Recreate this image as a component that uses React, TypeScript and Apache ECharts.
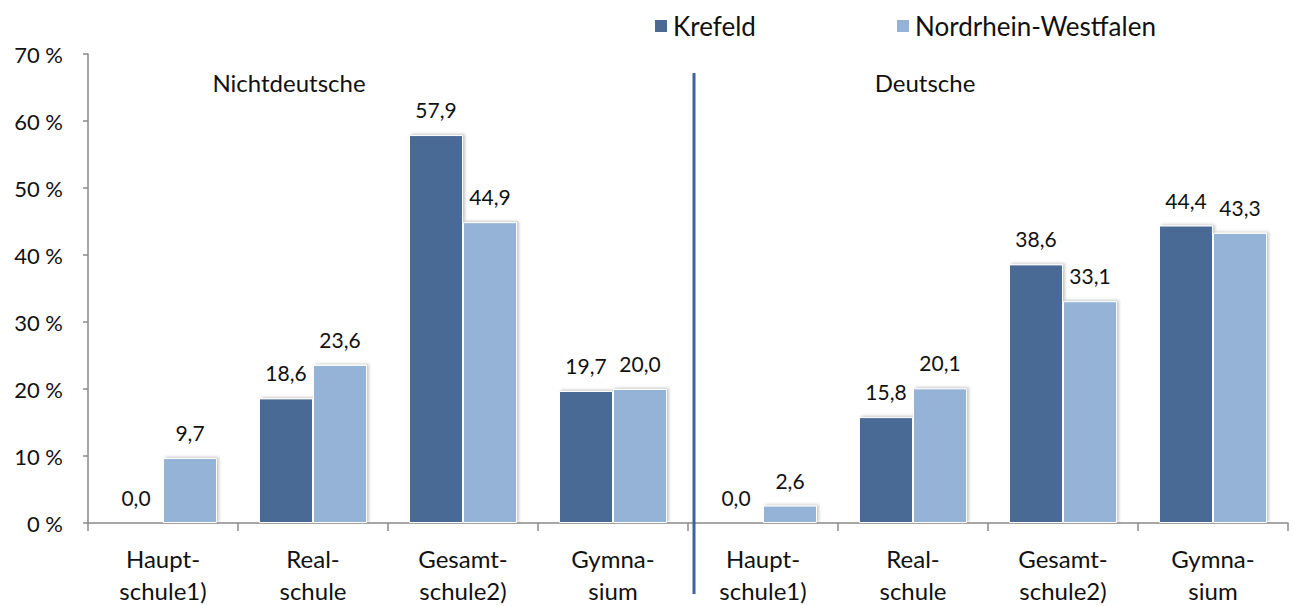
import React, { useEffect, useRef } from "react";
import * as echarts from "echarts";

const categories = [
  "Haupt-\nschule1)",
  "Real-\nschule",
  "Gesamt-\nschule2)",
  "Gymna-\nsium",
  "Haupt-\nschule1)",
  "Real-\nschule",
  "Gesamt-\nschule2)",
  "Gymna-\nsium",
];
// first four: Nichtdeutsche, last four: Deutsche
const krefeld = [0.0, 18.6, 57.9, 19.7, 0.0, 15.8, 38.6, 44.4];
const nrw = [9.7, 23.6, 44.9, 20.0, 2.6, 20.1, 33.1, 43.3];
const seriesNames = ["Krefeld", "Nordrhein-Westfalen"];
const groupTitles = ["Nichtdeutsche", "Deutsche"];
const yTicks = { min: 0, max: 70, interval: 10 };

const FONT = "Lato, 'Noto Sans', sans-serif";
const C_KREFELD = "#4A6A94";
const C_NRW = "#95B3D7";

export default function App() {
  const ref = useRef<HTMLDivElement>(null);
  useEffect(() => {
    if (!ref.current) return;
    const chart = echarts.init(ref.current, null, { renderer: "svg" });
    const fmt = (p: any) => Number(p.value).toFixed(1).replace(".", ",");
    const barStyle = (color: string) => ({
      color,
      borderColor: "#ffffff",
      borderWidth: 1,
      shadowColor: "rgba(0,0,0,0.22)",
      shadowBlur: 3,
      shadowOffsetX: 2,
      shadowOffsetY: -1,
    });
    const label = {
      show: true,
      position: "top" as const,
      distance: 15,
      formatter: fmt,
      fontFamily: FONT,
      fontSize: 21,
      color: "#111",
    };
    const legendBase = {
      top: 8,
      itemWidth: 14,
      itemHeight: 14,
      icon: "rect",
      textStyle: { fontFamily: FONT, fontSize: 26, color: "#111" },
      selectedMode: false,
    };
    chart.setOption({
      animation: false,
      backgroundColor: "#ffffff",
      legend: [
        { ...legendBase, left: 648, data: [seriesNames[0]] },
        { ...legendBase, left: 890, data: [seriesNames[1]] },
      ],
      grid: { left: 88, right: 5, top: 54, bottom: 80, containLabel: false },
      xAxis: {
        type: "category",
        data: categories,
        axisLine: { show: true, lineStyle: { color: "#8a8a8a", width: 1.5 } },
        axisTick: { show: true, length: 8, lineStyle: { color: "#8a8a8a", width: 1.5 } },
        axisLabel: {
          interval: 0,
          margin: 19,
          lineHeight: 32,
          fontFamily: FONT,
          fontSize: 24,
          color: "#111",
        },
      },
      yAxis: {
        type: "value",
        min: yTicks.min,
        max: yTicks.max,
        interval: yTicks.interval,
        axisLine: { show: true, lineStyle: { color: "#8a8a8a", width: 1.5 } },
        axisTick: { show: true, length: 5, lineStyle: { color: "#8a8a8a", width: 1.5 } },
        splitLine: { show: false },
        axisLabel: {
          formatter: "{value}\u2005%",
          margin: 25,
          fontFamily: FONT,
          fontSize: 22,
          color: "#111",
        },
      },
      series: [
        {
          name: seriesNames[0],
          type: "bar",
          data: krefeld,
          barGap: "0%",
          barCategoryGap: "28%",
          itemStyle: barStyle(C_KREFELD),
          label,
        },
        {
          name: seriesNames[1],
          type: "bar",
          data: nrw,
          barGap: "0%",
          barCategoryGap: "28%",
          itemStyle: barStyle(C_NRW),
          label,
        },
      ],
    });

    // divider between the two groups and group titles, positioned via the axes
    const px = (i: number) => chart.convertToPixel({ xAxisIndex: 0 }, i) as number;
    const divX = (px(3) + px(4)) / 2 + 6;
    const yTop = chart.convertToPixel({ yAxisIndex: 0 }, 70) as number;
    const y0 = chart.convertToPixel({ yAxisIndex: 0 }, 0) as number;
    const titleStyle = {
      fontFamily: FONT,
      fontSize: 24,
      fill: "#111",
      align: "center",
      verticalAlign: "middle",
    };
    chart.setOption({
      graphic: [
        {
          type: "line",
          shape: { x1: divX, y1: yTop + 19, x2: divX, y2: y0 + 71 },
          style: { stroke: "#3D64A0", lineWidth: 3 },
          z: 100,
        },
        {
          type: "text",
          x: px(1) - 24,
          y: yTop + 28,
          style: { ...titleStyle, text: groupTitles[0] },
        },
        {
          type: "text",
          x: px(5) + 12,
          y: yTop + 28,
          style: { ...titleStyle, text: groupTitles[1] },
        },
      ],
    });
    return () => chart.dispose();
  }, []);
  return (
    <div
      ref={ref}
      style={{ position: "fixed", left: 0, top: 0, width: 1293, height: 606, background: "#fff" }}
    />
  );
}
